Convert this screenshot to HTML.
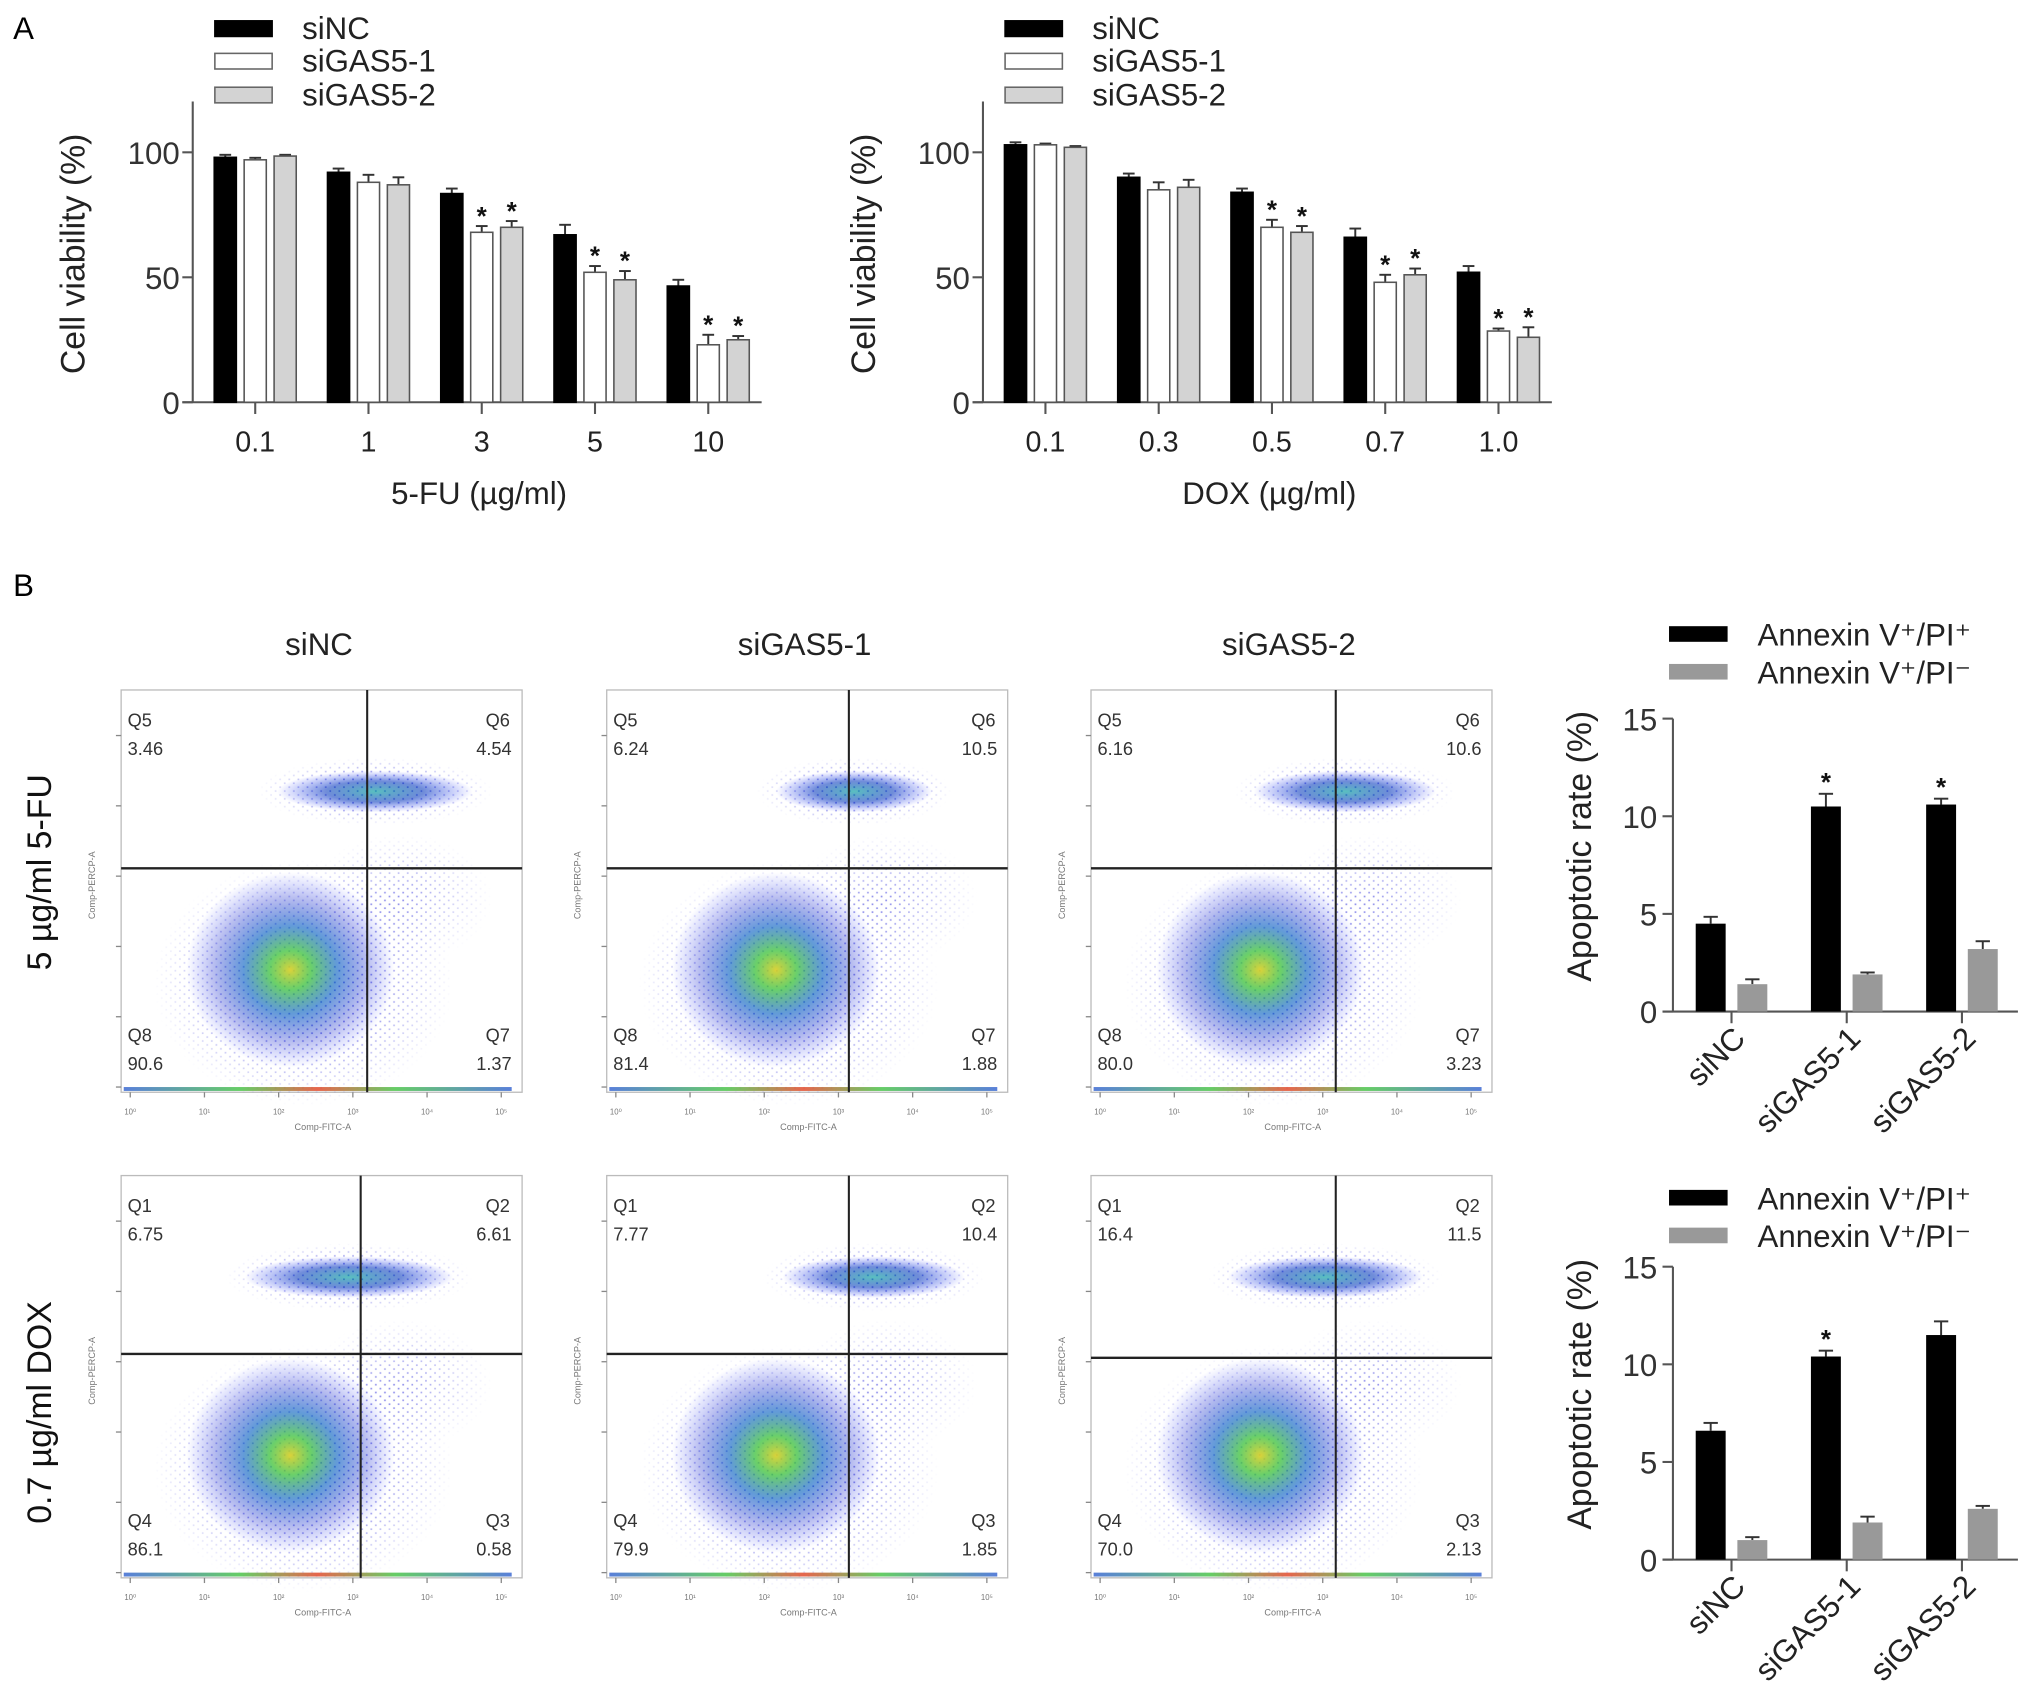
<!DOCTYPE html>
<html><head><meta charset="utf-8">
<style>
html,body{margin:0;padding:0;background:#fff;}
svg{display:block;font-family:"Liberation Sans",Arial,sans-serif;}
</style></head>
<body>
<svg id="fig" width="2031" height="1695" viewBox="0 0 1560 1302" xmlns="http://www.w3.org/2000/svg">
<defs>
<radialGradient id="blob" cx="50%" cy="50%" r="50%">
<stop offset="0" stop-color="#d8d030" stop-opacity="0.95"/>
<stop offset="0.2" stop-color="#50c850" stop-opacity="0.85"/>
<stop offset="0.45" stop-color="#2070c8" stop-opacity="0.7"/>
<stop offset="0.75" stop-color="#2030d0" stop-opacity="0.3"/>
<stop offset="1" stop-color="#3040ff" stop-opacity="0"/>
</radialGradient>
<radialGradient id="band" cx="50%" cy="50%" r="50%">
<stop offset="0" stop-color="#30b0b0" stop-opacity="0.8"/>
<stop offset="0.5" stop-color="#1040c0" stop-opacity="0.6"/>
<stop offset="1" stop-color="#3040ff" stop-opacity="0"/>
</radialGradient>
<radialGradient id="haze" cx="50%" cy="50%" r="50%">
<stop offset="0" stop-color="#4050e0" stop-opacity="0.3"/>
<stop offset="1" stop-color="#4050e0" stop-opacity="0"/>
</radialGradient>
<pattern id="dots" width="7" height="6" patternUnits="userSpaceOnUse">
<rect x="1" y="1" width="1.3" height="1.3" fill="#2a2ad8"/><rect x="4.5" y="4" width="1.3" height="1.3" fill="#2a2ad8"/>
</pattern>
<radialGradient id="fade" cx="50%" cy="50%" r="50%">
<stop offset="0" stop-color="#fff" stop-opacity="1"/><stop offset="1" stop-color="#fff" stop-opacity="0"/>
</radialGradient>
<mask id="dotmask" maskContentUnits="objectBoundingBox"><rect x="0" y="0" width="1" height="1" fill="url(#fade)"/></mask>
<linearGradient id="floor" x1="0" x2="1">
<stop offset="0" stop-color="#3060d0"/><stop offset="0.3" stop-color="#40c040"/><stop offset="0.5" stop-color="#e04020"/><stop offset="0.7" stop-color="#40c040"/><stop offset="1" stop-color="#3060d0"/>
</linearGradient>
</defs>
<text x="10" y="30" font-size="24">A</text>
<text x="10" y="458" font-size="24">B</text>
<g id="root"></g>
</svg>
<script>
// Panel A left (5-FU)
const fuCategories = ["0.1","1","3","5","10"];
const fuSiNC = [98, 92, 83.5, 67, 46.5];
const fuSiNCErr = [1, 1.5, 2, 4, 2.5];
const fuSiGAS1 = [97, 88, 68, 52, 23];
const fuSiGAS1Err = [0.8, 3, 2.5, 2.5, 4];
const fuSiGAS2 = [98.5, 87, 70, 49, 25];
const fuSiGAS2Err = [0.5, 3, 2.5, 3.5, 1.5];
const fuStarGAS1 = [0,0,1,1,1];
const fuStarGAS2 = [0,0,1,1,1];
// Panel A right (DOX)
const doxCategories = ["0.1","0.3","0.5","0.7","1.0"];
const doxSiNC = [103, 90, 84, 66, 52];
const doxSiNCErr = [1, 1.5, 1.5, 3.5, 2.5];
const doxSiGAS1 = [103, 85, 70, 48, 28.5];
const doxSiGAS1Err = [0.5, 3, 3, 3, 1];
const doxSiGAS2 = [102, 86, 68, 51, 26];
const doxSiGAS2Err = [0.5, 3, 2.5, 2.5, 4];
const doxStarGAS1 = [0,0,1,1,1];
const doxStarGAS2 = [0,0,1,1,1];
const yTicksA = [0, 50, 100];
// Panel B bar charts
const apopCategories = ["siNC","siGAS5-1","siGAS5-2"];
const fuPIpos = [4.5, 10.5, 10.6];
const fuPIposErr = [0.35, 0.65, 0.3];
const fuPIneg = [1.4, 1.9, 3.2];
const fuPInegErr = [0.25, 0.1, 0.4];
const fuApopStar = [0,1,1];
const doxPIpos = [6.6, 10.4, 11.5];
const doxPIposErr = [0.4, 0.3, 0.7];
const doxPIneg = [1.0, 1.9, 2.6];
const doxPInegErr = [0.15, 0.3, 0.15];
const doxApopStar = [0,1,0];
const yTicksB = [0, 5, 10, 15];
// Flow quadrant values
const flowCols = ["siNC","siGAS5-1","siGAS5-2"];
const flowFU = [["3.46","4.54","90.6","1.37"],["6.24","10.5","81.4","1.88"],["6.16","10.6","80.0","3.23"]];
const flowDOX = [["6.75","6.61","86.1","0.58"],["7.77","10.4","79.9","1.85"],["16.4","11.5","70.0","2.13"]];

const NS="http://www.w3.org/2000/svg";
const root=document.getElementById('root');
function mk(tag,attrs,parent){const e=document.createElementNS(NS,tag);for(const k in attrs)e.setAttribute(k,attrs[k]);(parent||root).appendChild(e);return e;}
function txt(x,y,s,size,attrs,parent){const e=mk('text',Object.assign({x:x,y:y,'font-size':size,fill:'#111'},attrs||{}),parent);e.textContent=s;return e;}
const AX='#555';

function barChartA(ox, cats, series, errs, stars, xtitle, name){
  const g=mk('g',{});
  
  
  const y0=309, k=1.92, c0=ox+48, step=87;
  const y=v=>y0-v*k, x=i=>c0+i*step;
  mk('line',{x1:ox,y1:78,x2:ox,y2:y0,stroke:AX,'stroke-width':1.6},g);
  mk('line',{x1:ox-8,y1:y0,x2:ox+437,y2:y0,stroke:AX,'stroke-width':1.6},g);
  yTicksA.forEach(t=>{mk('line',{x1:ox-8,y1:y(t),x2:ox,y2:y(t),stroke:AX,'stroke-width':1.6},g);
    const l=txt(ox-10,y(t)+9,String(t),24,{'text-anchor':'end',fill:'#333'},g);
    
    });
  const fills=['#000','#fff','#d3d3d3'], offs=[-23,0,23];
  cats.forEach((c,i)=>{
    mk('line',{x1:x(i),y1:y0,x2:x(i),y2:y0+9,stroke:AX,'stroke-width':1.6},g);
    const l=txt(x(i),y0+38,c,22,{'text-anchor':'middle',fill:'#222'},g);
    
    
    series.forEach((s,j)=>{
      const bx=x(i)+offs[j]-8.5, top=y(s[i]);
      mk('line',{x1:bx+8.5,y1:top,x2:bx+8.5,y2:y(s[i]+errs[j][i]),stroke:'#333','stroke-width':1.5},g);
      mk('line',{x1:bx+4,y1:y(s[i]+errs[j][i]),x2:bx+13,y2:y(s[i]+errs[j][i]),stroke:'#333','stroke-width':1.5},g);
      const r=mk('rect',{x:bx,y:top,width:17,height:y0-top,fill:fills[j],stroke:j==0?'#000':'#555','stroke-width':1.2},g);
      
      
      if(j>0&&stars[j-1][i]){const st=txt(bx+8.5,y(s[i]+errs[j][i])-1,'*',20,{'text-anchor':'middle','font-weight':'bold'},g);
        
        }
    });
  });
  const yl=txt(0,0,'Cell viability (%)',26,{'text-anchor':'middle',fill:'#222',transform:`translate(${ox-83},195) rotate(-90)`},g);
  
  
  const xt=txt(ox+220,387,xtitle,24,{'text-anchor':'middle',fill:'#222'},g);
  
  
  const labs=['siNC','siGAS5-1','siGAS5-2'], ly=[16,41,67];
  labs.forEach((l,j)=>{
    const r=mk('rect',{x:ox+17,y:ly[j],width:44,height:12,fill:fills[j],stroke:j==0?'#000':'#666','stroke-width':1.2},g);
    
    
    const t=txt(ox+84,ly[j]+14,l,24,{fill:'#222'},g);
    
    
  });
}
barChartA(148,fuCategories,[fuSiNC,fuSiGAS1,fuSiGAS2],[fuSiNCErr,fuSiGAS1Err,fuSiGAS2Err],[fuStarGAS1,fuStarGAS2],'5-FU (\u00b5g/ml)','viability-5fu-chart');
barChartA(755,doxCategories,[doxSiNC,doxSiGAS1,doxSiGAS2],[doxSiNCErr,doxSiGAS1Err,doxSiGAS2Err],[doxStarGAS1,doxStarGAS2],'DOX (\u00b5g/ml)','viability-dox-chart');

function barChartB(y0, pos, posE, neg, negE, stars, legY, name){
  const g=mk('g',{});
  
  
  const ox=1285, k=15, y=v=>y0-v*k, x=i=>1330+i*88.5;
  mk('line',{x1:ox,y1:y(15),x2:ox,y2:y0,stroke:AX,'stroke-width':1.6},g);
  mk('line',{x1:ox-8,y1:y0,x2:1550,y2:y0,stroke:AX,'stroke-width':1.6},g);
  yTicksB.forEach(t=>{mk('line',{x1:ox-8,y1:y(t),x2:ox,y2:y(t),stroke:AX,'stroke-width':1.6},g);
    const l=txt(ox-12,y(t)+9,String(t),24,{'text-anchor':'end',fill:'#333'},g);
    
    });
  apopCategories.forEach((c,i)=>{
    mk('line',{x1:x(i),y1:y0,x2:x(i),y2:y0+9,stroke:AX,'stroke-width':1.6},g);
    const l=txt(0,0,c,24,{'text-anchor':'end',fill:'#222',transform:`translate(${x(i)+12},${y0+22}) rotate(-45)`},g);
    
    
    [[pos,posE,'#000',-16],[neg,negE,'#999',16]].forEach(([s,e,f,o])=>{
      const bx=x(i)+o-11.5, top=y(s[i]);
      mk('line',{x1:bx+11.5,y1:top,x2:bx+11.5,y2:y(s[i]+e[i]),stroke:'#333','stroke-width':1.5},g);
      mk('line',{x1:bx+6,y1:y(s[i]+e[i]),x2:bx+17,y2:y(s[i]+e[i]),stroke:'#333','stroke-width':1.5},g);
      const r=mk('rect',{x:bx,y:top,width:23,height:y0-top,fill:f},g);
      
      
    });
    if(stars[i]){const st=txt(x(i)-16,y(pos[i]+posE[i])-2,'*',20,{'text-anchor':'middle','font-weight':'bold'},g);
      
      }
  });
  const yl=txt(0,0,'Apoptotic rate (%)',26,{'text-anchor':'middle',fill:'#222',transform:`translate(1222,${y0-127}) rotate(-90)`},g);
  
  
  [['#000','Annexin V\u207a/PI\u207a',0],['#999','Annexin V\u207a/PI\u207b',29]].forEach(([f,l,d])=>{
    const r=mk('rect',{x:1282,y:legY+d,width:45,height:12,fill:f},g);
    
    
    const t=txt(1350,legY+d+15,l,24,{fill:'#222'},g);
    
    
  });
}
barChartB(777,fuPIpos,fuPIposErr,fuPIneg,fuPInegErr,fuApopStar,481,'apoptosis-5fu-chart');
barChartB(1198,doxPIpos,doxPIposErr,doxPIneg,doxPInegErr,doxApopStar,914,'apoptosis-dox-chart');

// Flow plots
const colX=[93,466,838];
function flow(ci, top, vals, qn, vx, hy, band, name){
  const g=mk('g',{});
  
  
  const L=colX[ci], W=308, H=309;
  mk('rect',{x:L,y:top,width:W,height:H,fill:'#fff',stroke:'#bbb','stroke-width':1},g);
  mk('ellipse',{cx:L+140,cy:top+225,rx:115,ry:95,fill:'url(#dots)',mask:'url(#dotmask)'},g);
  mk('ellipse',{cx:L+130,cy:top+215,rx:80,ry:75,fill:'url(#blob)'},g);
  mk('ellipse',{cx:band[0]+L,cy:top+78,rx:band[1]+15,ry:26,fill:'url(#dots)',mask:'url(#dotmask)'},g);
  mk('ellipse',{cx:band[0]+L,cy:top+78,rx:band[1],ry:16,fill:'url(#band)'},g);
  mk('ellipse',{cx:L+215,cy:top+160,rx:70,ry:50,fill:'url(#dots)',mask:'url(#dotmask)',opacity:0.5},g);
  mk('rect',{x:L+2,y:top+H-4,width:W-10,height:3,fill:'url(#floor)',opacity:0.8},g);
  mk('line',{x1:L+vx,y1:top,x2:L+vx,y2:top+H,stroke:'#222','stroke-width':1.6},g);
  mk('line',{x1:L,y1:top+hy,x2:L+W,y2:top+hy,stroke:'#222','stroke-width':1.8},g);
  const q=[[L+5,top+28,qn[0]],[L+W-28,top+28,qn[1]],[L+5,top+270,qn[2]],[L+W-28,top+270,qn[3]]];
  q.forEach((p,i)=>{
    const a=txt(p[0],p[1],p[2],14,{fill:'#333'},g);
    
    
    const v=txt(i%2?L+W-8:L+5,p[1]+22,vals[i],14,{fill:'#333','text-anchor':i%2?'end':'start'},g);
    
    
  });
  const sup=['\u2070','\u00b9','\u00b2','\u00b3','\u2074','\u2075'];
  for(let i=0;i<6;i++){const xx=L+7+i*57;mk('line',{x1:xx,y1:top+H,x2:xx,y2:top+H+4,stroke:'#888'},g);
    txt(xx,top+H+17,'10'+sup[i],6,{'text-anchor':'middle',fill:'#777'},g);}
  for(let i=0;i<6;i++){const yy=top+H-4-i*54;mk('line',{x1:L-4,y1:yy,x2:L,y2:yy,stroke:'#888'},g);}
  txt(L+155,top+H+29,'Comp-FITC-A',7,{'text-anchor':'middle',fill:'#777'},g);
  txt(0,0,'Comp-PERCP-A',7,{'text-anchor':'middle',fill:'#777',transform:`translate(${L-20},${top+150}) rotate(-90)`},g);
}
const vxFU=[189,186,188], vxDOX=[184,186,188];
const bandFU=[[195,75],[190,60],[195,70]], bandDOX=[[175,80],[205,70],[180,75]];
flowCols.forEach((c,i)=>{
  const t=txt(colX[i]+152,503,c,24,{'text-anchor':'middle',fill:'#222'});
  
  
  flow(i,530,flowFU[i],['Q5','Q6','Q8','Q7'],vxFU[i],137,bandFU[i],'flow-plot-5fu-'+c);
  flow(i,903,flowDOX[i],['Q1','Q2','Q4','Q3'],vxDOX[i],i==2?140:137,bandDOX[i],'flow-plot-dox-'+c);
});
const r1=txt(0,0,'5 \u00b5g/ml  5-FU',26,{'text-anchor':'middle',fill:'#111',transform:'translate(39,670) rotate(-90)'});


const r2=txt(0,0,'0.7 \u00b5g/ml  DOX',26,{'text-anchor':'middle',fill:'#111',transform:'translate(39,1085) rotate(-90)'});


</script>
</body></html>
